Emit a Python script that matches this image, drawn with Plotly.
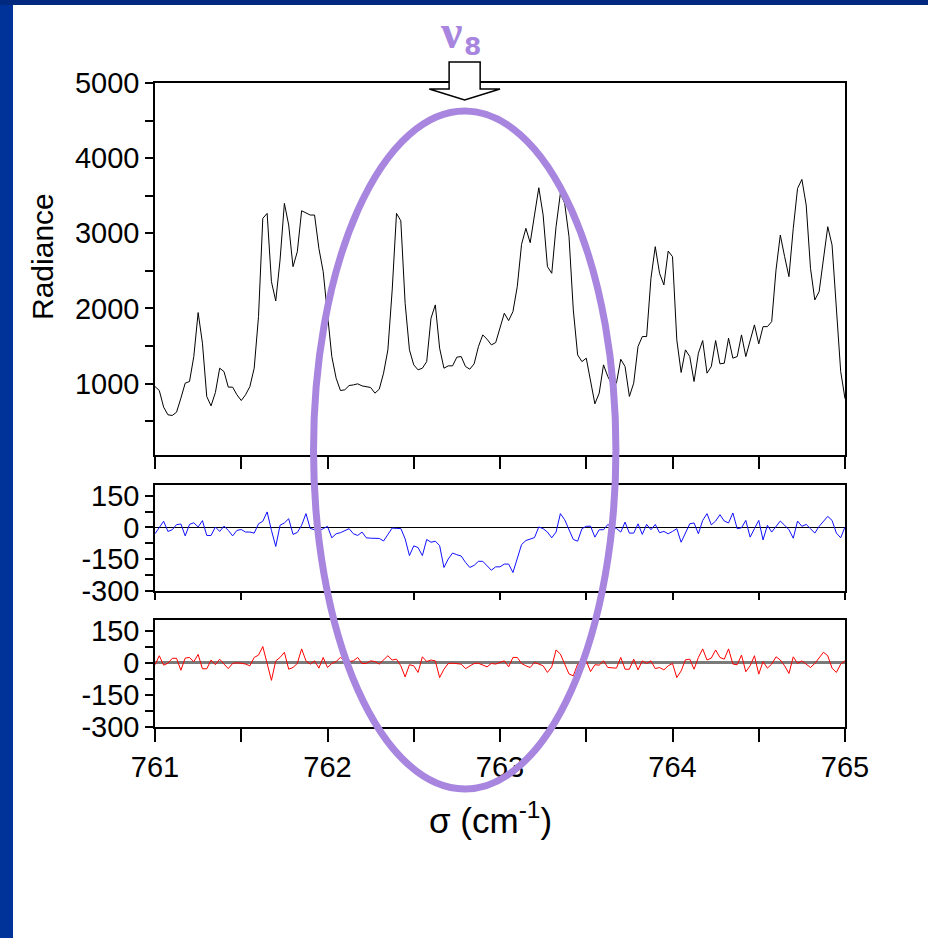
import numpy as np
import plotly.graph_objects as go

# ---------------------------------------------------------------
# Spectral data: 0.025 cm-1 sampling from 761 to 765 cm-1
# ---------------------------------------------------------------
sigma_start = 761.0
sigma_step = 0.025

# Observed radiance (top panel)
radiance = [
    961, 908, 687, 585, 576, 620, 806, 1006, 1028, 1360,
    1945, 1538, 828, 704, 881, 1205, 1160, 953, 953, 851,
    775, 851, 961, 1205, 1891, 3199, 3265, 2356, 2100, 2645,
    3398, 3110, 2556, 2755, 3300, 3274, 3243, 3243, 2800, 2490,
    1936, 1360, 1072, 908, 917, 974, 983, 997, 970, 961,
    948, 873, 926, 1139, 1449, 2246, 3265, 3167, 2069, 1449,
    1249, 1183, 1205, 1293, 1870, 2047, 1471, 1205, 1236, 1236,
    1352, 1360, 1227, 1192, 1263, 1493, 1648, 1591, 1515, 1546,
    1737, 1936, 1838, 1958, 2290, 2853, 3066, 2875, 3243, 3606,
    3243, 2556, 2468, 3088, 3531, 3398, 2955, 1980, 1382, 1293,
    1338, 1006, 731, 873, 1249, 1094, 983, 1006, 1324, 1227,
    829, 1006, 1493, 1626, 1626, 2401, 2822, 2468, 2313, 2764,
    2689, 1582, 1148, 1449, 1360, 1028, 1404, 1573, 1139, 1227,
    1573, 1263, 1271, 1604, 1338, 1360, 1648, 1360, 1568, 1781,
    1529, 1758, 1758, 1825, 2512, 2977, 2689, 2423, 3066, 3597,
    3717, 3376, 2534, 2113, 2224, 2689, 3088, 2844, 2025, 1161,
    800,
]

# Residual, fit without the nu8 band (middle panel)
residual_without = [
    -30, -2, 29, -19, -11, 13, 16, -40, 14, 22,
    2, 32, -38, -38, 2, -19, 6, -14, -40, -14,
    -10, -22, -22, -27, 17, 29, 73, -14, -90, 10,
    21, 41, -33, -24, 10, 65, -5, -11, -17, -6,
    5, -49, -30, -25, -17, -6, -30, -38, -22, -49,
    -51, -51, -52, -64, -33, -3, -5, -5, -54, -133,
    -87, -95, -133, -57, -70, -65, -86, -189, -149, -121,
    -129, -135, -165, -189, -179, -160, -160, -179, -202, -186,
    -186, -173, -173, -213, -145, -81, -62, -56, -48, 2,
    -6, -22, -49, -22, 65, 36, -14, -57, -65, -6,
    5, 6, -46, -11, -11, 14, 0, -5, -22, 25,
    -27, -27, 17, -33, 14, -11, 14, -25, -19, -30,
    -19, -6, -70, -30, 17, 21, -30, 33, 65, 12,
    30, 60, 30, 21, 68, -6, -2, 33, -46, -6,
    33, -59, 10, -22, 5, 30, 10, -11, -51, 30,
    5, 14, -6, -27, 5, 30, 52, 33, -27, -49,
    2,
]

# Residual, fit including the nu8 band (bottom panel)
residual_with = [
    -9, 33, -11, -2, 21, 21, -35, 22, 25, 5,
    39, -28, -28, 13, -9, 17, -6, -27, -3, 0,
    -2, -6, -14, 25, 36, 76, -3, -82, 9, 25,
    49, -30, -22, -3, 65, 9, -6, 9, -25, 25,
    -22, -3, 6, 25, 9, 6, 9, 25, -3, -3,
    9, 6, -6, 13, 33, 13, 17, -14, -66, -9,
    -14, -45, 28, 6, 13, 9, -69, -30, -3, -2,
    -3, -6, -27, -14, -3, -2, -9, -19, -3, -6,
    2, 9, -19, 25, 25, -3, -14, -22, 2, -6,
    -14, -45, -19, 60, 41, -6, -52, -61, -6, 5,
    9, -41, -9, -11, 9, -22, -22, -25, 25, -30,
    -30, 17, -33, 9, -3, 9, -27, -22, -33, -14,
    -3, -69, -38, 14, 17, -30, 25, 65, 13, 22,
    60, 25, 17, 65, -6, -9, 36, -42, -14, 33,
    -53, 6, -25, -6, 28, 13, -14, -50, 28, -3,
    9, -6, -22, -3, 25, 49, 33, -25, -45, -6,
    9,
]

sigma = sigma_start + sigma_step * np.arange(len(radiance))

# Axis ticks
x_tickvals = [761, 761.5, 762, 762.5, 763, 763.5, 764, 764.5, 765]
x_ticktext = ["761", "", "762", "", "763", "", "764", "", "765"]
rad_tickvals = [500, 1000, 1500, 2000, 2500, 3000, 3500, 4000, 4500, 5000]
rad_ticktext = ["", "1000", "", "2000", "", "3000", "", "4000", "", "5000"]
res_tickvals = [-300, -225, -150, -75, 0, 75, 150]
res_ticktext = ["-300", "", "-150", "", "0", "", "150"]

# ---------------------------------------------------------------
# Page geometry (pixels -> paper fractions, zero margins)
# ---------------------------------------------------------------
W, H = 928, 938


def fx(p):
    return p / W


def fy(p):
    return 1 - p / H


x_dom = [fx(155), fx(845)]
top_dom = [fy(455), fy(83)]
mid_dom = [fy(591), fy(485)]
bot_dom = [fy(727), fy(620)]

PURPLE = "#A886DF"
FONT = "Liberation Sans, Arial, sans-serif"
tick_font = dict(family=FONT, size=29, color="black")

fig = go.Figure()
fig.add_trace(go.Scatter(x=sigma, y=radiance, mode="lines",
                         line=dict(color="black", width=1),
                         xaxis="x", yaxis="y", showlegend=False))
fig.add_trace(go.Scatter(x=sigma, y=residual_without, mode="lines",
                         line=dict(color="#1010FF", width=1),
                         xaxis="x2", yaxis="y2", showlegend=False))
fig.add_trace(go.Scatter(x=sigma, y=residual_with, mode="lines",
                         line=dict(color="#FF0000", width=1),
                         xaxis="x3", yaxis="y3", showlegend=False))

frame = dict(showline=True, linecolor="black", linewidth=1.5, mirror=True,
             showgrid=False, zeroline=False, ticks="outside",
             tickcolor="black", tickwidth=1.5, tickfont=tick_font,
             automargin=False)

xcommon = dict(frame, domain=x_dom, range=[761, 765],
               tickmode="array", tickvals=x_tickvals, ticktext=x_ticktext)

fig.update_layout(
    xaxis=dict(xcommon, anchor="y", ticklen=12, showticklabels=False),
    xaxis2=dict(xcommon, anchor="y2", ticklen=7, showticklabels=False),
    xaxis3=dict(xcommon, anchor="y3", ticklen=13, ticklabelstandoff=0),
    # inward ticks along the top edge of the radiance panel
    xaxis4=dict(domain=x_dom, range=[761, 765], anchor="y", overlaying="x",
                side="top", showline=False, showgrid=False, zeroline=False,
                ticks="inside", ticklen=4, tickwidth=1.2, tickcolor="black",
                tickmode="array", tickvals=x_tickvals, showticklabels=False,
                automargin=False),
    yaxis=dict(frame, domain=top_dom, anchor="x", range=[50, 5000],
               tickmode="array", tickvals=rad_tickvals, ticktext=rad_ticktext,
               ticklen=8),
    yaxis2=dict(frame, domain=mid_dom, anchor="x2", range=[-300, 200],
                tickmode="array", tickvals=res_tickvals, ticktext=res_ticktext,
                ticklen=8, zeroline=True, zerolinecolor="black",
                zerolinewidth=1),
    yaxis3=dict(frame, domain=bot_dom, anchor="x3", range=[-300, 200],
                tickmode="array", tickvals=res_tickvals, ticktext=res_ticktext,
                ticklen=8, zeroline=True, zerolinecolor="#7a7a7a",
                zerolinewidth=2.5),
)

# Hollow arrow marking the nu8 band centre
band_x = 762.795
stem_half = 0.09
head_half = 0.205
arrow_pts = [
    (band_x - stem_half, fy(62)), (band_x + stem_half, fy(62)),
    (band_x + stem_half, fy(89)), (band_x + head_half, fy(89)),
    (band_x, fy(100)), (band_x - head_half, fy(89)),
    (band_x - stem_half, fy(89)),
]
arrow_path = "M " + " L ".join(f"{a:.4f},{b:.5f}" for a, b in arrow_pts) + " Z"

fig.update_layout(
    width=W, height=H, autosize=False,
    margin=dict(l=0, r=0, t=0, b=0, pad=0, autoexpand=False),
    paper_bgcolor="#003399", plot_bgcolor="rgba(0,0,0,0)",
    shapes=[
        # dark strip along the top edge
        dict(type="rect", xref="paper", yref="paper", x0=0, x1=1,
             y0=fy(5), y1=1, fillcolor="#00297F", line=dict(width=0),
             layer="below"),
        # white page
        dict(type="rect", xref="paper", yref="paper", x0=fx(13), x1=1,
             y0=0, y1=fy(5), fillcolor="white", line=dict(width=0),
             layer="below"),
        # ellipse highlighting the band region across all panels
        dict(type="circle", xref="x", yref="paper",
             x0=761.919, x1=763.672, y0=fy(789), y1=fy(111),
             line=dict(color=PURPLE, width=7)),
        dict(type="path", xref="x", yref="paper", path=arrow_path,
             fillcolor="white", line=dict(color="black", width=1.5)),
    ],
    annotations=[
        # band symbol: nu with subscript 8
        dict(text="ν", xref="x", yref="paper",
             x=762.716, y=fy(31), xanchor="center", yanchor="middle",
             showarrow=False,
             font=dict(family="Liberation Serif", size=48, color=PURPLE,
                       weight="bold")),
        dict(text="8", xref="x", yref="paper",
             x=762.838, y=fy(47), xanchor="center", yanchor="middle",
             showarrow=False,
             font=dict(family="DejaVu Sans", size=25, color=PURPLE,
                       weight="bold")),
        dict(text="Radiance", xref="paper", yref="paper",
             x=fx(42), y=fy(257), xanchor="center", yanchor="middle",
             showarrow=False, textangle=-90,
             font=dict(family=FONT, size=30, color="black")),
        dict(text="σ (cm<sup>-1</sup>)", xref="paper", yref="paper",
             x=fx(490), y=fy(818), xanchor="center", yanchor="middle",
             showarrow=False,
             font=dict(family=FONT, size=35, color="black")),
    ],
)

fig.write_html("out.html")
